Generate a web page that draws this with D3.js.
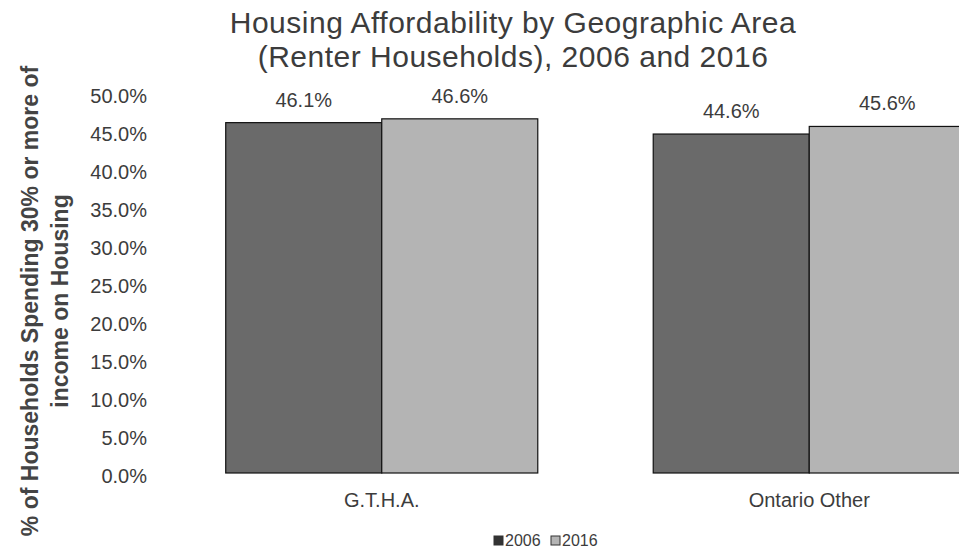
<!DOCTYPE html>
<html>
<head>
<meta charset="utf-8">
<script src="https://cdn.jsdelivr.net/npm/d3@7/dist/d3.min.js"></script>
<style>
  html, body { margin: 0; padding: 0; background: #fff; overflow: hidden; }
  svg { display: block; font-family: "Liberation Sans", Arial, sans-serif; }
</style>
</head>
<body>
<svg id="chart" width="959" height="554"></svg>
<script>
const categories = ["G.T.H.A.", "Ontario Other"];
const series = ["2006", "2016"];
const values2006 = [46.1, 44.6];
const values2016 = [46.6, 45.6];
const yTicks = [0, 5, 10, 15, 20, 25, 30, 35, 40, 45, 50];
const titleLines = ["Housing Affordability by Geographic Area", "(Renter Households), 2006 and 2016"];
const yTitleLines = ["% of Households Spending 30% or more of", "income on Housing"];

const colors = { "2006": "#6a6a6a", "2016": "#b4b4b4" };
const legendColors = { "2006": "#333333", "2016": "#b4b4b4" };
const textColor = "#3c3c3c";

const svg = d3.select("#chart");
const plot = { left: 168, right: 1023, top: 93, bottom: 473 };

const y = d3.scaleLinear().domain([0, 50]).range([plot.bottom, plot.top]);
const x0 = d3.scaleBand().domain(categories).range([plot.left, plot.right]).paddingInner(0).paddingOuter(0);
const x1 = d3.scaleBand().domain(series).range([0, x0.bandwidth()]).paddingInner(0).paddingOuter(0.37);

const data = categories.map((c, i) => ({
  category: c,
  values: [{ s: "2006", v: values2006[i] }, { s: "2016", v: values2016[i] }]
}));

// Title
svg.append("text")
  .attr("x", 513).attr("y", 33)
  .attr("text-anchor", "middle")
  .attr("font-size", 30).attr("letter-spacing", 0.5)
  .attr("fill", textColor)
  .selectAll("tspan").data(titleLines).join("tspan")
  .attr("x", 513).attr("dy", (d, i) => i === 0 ? 0 : 34)
  .text(d => d);

// Y axis (labels only)
const yAxis = d3.axisLeft(y).tickValues(yTicks).tickFormat(d => d.toFixed(1) + "%").tickSize(0).tickPadding(0);
const gy = svg.append("g").attr("transform", `translate(147,0)`).call(yAxis);
gy.select(".domain").remove();
gy.selectAll("text")
  .attr("font-size", 20).attr("fill", textColor)
  .attr("font-family", "'Liberation Sans', Arial, sans-serif")
  .attr("dy", "0.45em");

// Y title
const yt = svg.append("text")
  .attr("transform", "translate(0,301) rotate(-90)")
  .attr("text-anchor", "middle")
  .attr("font-size", 23).attr("font-weight", "bold")
  .attr("fill", "#444");
yt.selectAll("tspan").data(yTitleLines).join("tspan")
  .attr("x", 0).attr("y", (d, i) => 38 + i * 30)
  .text(d => d);

// Bars
const groups = svg.append("g").selectAll("g").data(data).join("g")
  .attr("transform", d => `translate(${x0(d.category)},0)`);

groups.selectAll("rect").data(d => d.values).join("rect")
  .attr("x", d => x1(d.s))
  .attr("y", d => y(d.v))
  .attr("width", x1.bandwidth())
  .attr("height", d => y(0) - y(d.v))
  .attr("fill", d => colors[d.s])
  .attr("stroke", "#111")
  .attr("stroke-width", 1.2);

groups.selectAll("text.val").data(d => d.values).join("text")
  .attr("class", "val")
  .attr("x", d => x1(d.s) + x1.bandwidth() / 2)
  .attr("y", d => y(d.v) - 16)
  .attr("text-anchor", "middle")
  .attr("font-size", 20).attr("fill", textColor)
  .text(d => d.v.toFixed(1) + "%");

// X axis labels
const xAxis = d3.axisBottom(x0).tickSize(0).tickPadding(0);
const gx = svg.append("g").attr("transform", `translate(0,${plot.bottom})`).call(xAxis);
gx.select(".domain").remove();
gx.selectAll("text")
  .attr("font-size", 20).attr("fill", textColor)
  .attr("font-family", "'Liberation Sans', Arial, sans-serif")
  .attr("dy", 0).attr("y", 34);

// Legend
const legend = svg.append("g").attr("transform", "translate(494,536)");
const lx = [0, 57];
series.forEach((s, i) => {
  const g = legend.append("g").attr("transform", `translate(${lx[i]},0)`);
  g.append("rect").attr("width", 9).attr("height", 9)
    .attr("fill", legendColors[s]).attr("stroke", "#333").attr("stroke-width", 1);
  g.append("text").attr("x", 11).attr("y", 9.5)
    .attr("font-size", 16).attr("fill", textColor).text(s);
});
</script>
</body>
</html>
